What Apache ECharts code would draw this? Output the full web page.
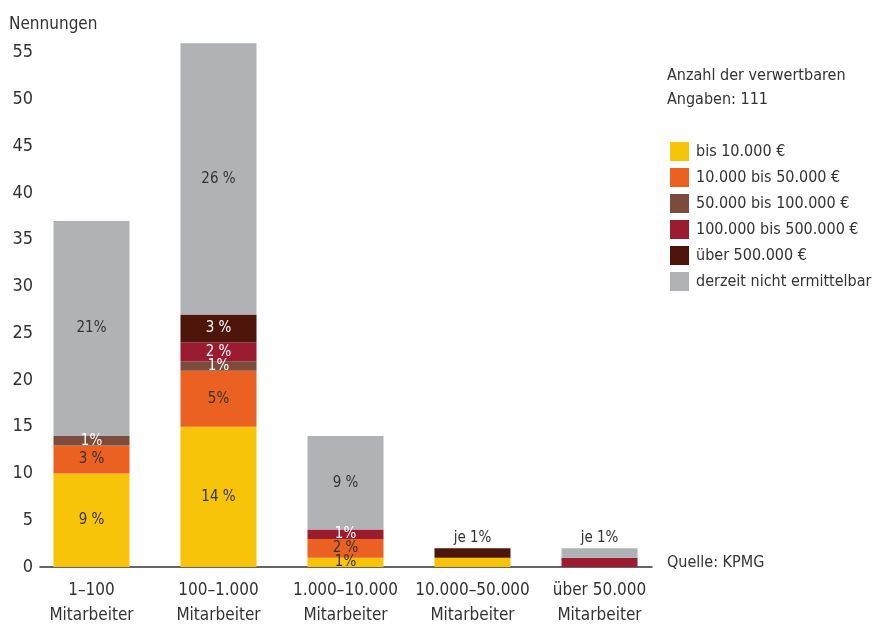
<!DOCTYPE html>
<html>
<head>
<meta charset="utf-8">
<script src="https://cdn.jsdelivr.net/npm/echarts@6/dist/echarts.min.js"></script>
<style>
  html, body { margin: 0; padding: 0; background: #fff; }
  #chart { width: 886px; height: 626px; }
</style>
</head>
<body>
<div id="chart"></div>
<script>
// Kategorien (Unternehmensgröße)
const categories = ['1–100\nMitarbeiter', '100–1.000\nMitarbeiter', '1.000–10.000\nMitarbeiter', '10.000–50.000\nMitarbeiter', 'über 50.000\nMitarbeiter'];
const seriesNames = ['bis 10.000 €', '10.000 bis 50.000 €', '50.000 bis 100.000 €', '100.000 bis 500.000 €', 'über 500.000 €', 'derzeit nicht ermittelbar'];

// Nennungen je Segment
const bis10k = [10, 15, 1, 1, 0];
const bis50k = [3, 6, 2, 0, 0];
const bis100k = [1, 1, 0, 0, 0];
const bis500k = [0, 2, 1, 0, 1];
const ueber500k = [0, 3, 0, 1, 0];
const unbekannt = [23, 29, 10, 0, 1];

// Beschriftungen in den Segmenten
const labels10k = ['9 %', '14 %', '1%', '', ''];
const labels50k = ['3 %', '5%', '2 %', '', ''];
const labels100k = ['1%', '1%', '', '', ''];
const labels500k = ['', '2 %', '1%', '', ''];
const labelsUeber = ['', '3 %', '', 'je 1%', ''];
const labelsUnbekannt = ['21%', '26 %', '9 %', '', 'je 1%'];

const yTicks = [0, 5, 10, 15, 20, 25, 30, 35, 40, 45, 50, 55];

const FONT = '"Liberation Sans Narrow", "DejaVu Sans Condensed", "Roboto", sans-serif';
const colors = ['#f8c409', '#eb6122', '#7c4b3c', '#9b1b30', '#4e150a', '#b1b2b6'];
const labelColors = ['#333', '#333', '#fff', '#fff', '#fff', '#333'];

const chart = echarts.init(document.getElementById('chart'));

function makeSeries(idx, values, labels) {
  return {
    name: seriesNames[idx],
    type: 'bar',
    stack: 'total',
    xAxisIndex: 0,
    yAxisIndex: 0,
    barWidth: 76,
    itemStyle: { color: colors[idx] },
    emphasis: { disabled: true },
    data: values.map(function (v, i) {
      const item = { value: v };
      if (labels[i] === 'je 1%') {
        item.label = { position: 'top', color: '#333', distance: 3 };
      }
      return item;
    }),
    label: {
      show: true,
      position: 'inside',
      fontFamily: FONT,
      fontSize: 15,
      color: labelColors[idx],
      formatter: function (p) { return labels[p.dataIndex]; }
    }
  };
}

chart.setOption({
  animation: false,
  textStyle: { fontFamily: FONT },
  title: [
    { text: 'Nennungen', left: 4, top: 11, textStyle: { fontFamily: FONT, fontSize: 17, fontWeight: 'normal', color: '#333' } },
    { text: 'Anzahl der verwertbaren\nAngaben: 111', left: 662, top: 59, textStyle: { fontFamily: FONT, fontSize: 16, lineHeight: 24, fontWeight: 'normal', color: '#333' } },
    { text: 'Quelle: KPMG', left: 662, top: 550, textStyle: { fontFamily: FONT, fontSize: 16, fontWeight: 'normal', color: '#333' } }
  ],
  legend: {
    orient: 'vertical',
    left: 665,
    top: 137,
    itemWidth: 19,
    itemHeight: 19,
    itemGap: 7,
    icon: 'rect',
    selectedMode: false,
    data: seriesNames,
    textStyle: { fontFamily: FONT, fontSize: 16, color: '#333', padding: [0, 0, 0, 2] }
  },
  grid: [
    { left: 28, width: 635, top: 34, height: 533, outerBoundsMode: 'none' },
    { left: 40, width: 612, top: 34, height: 533, outerBoundsMode: 'none' }
  ],
  xAxis: [
    {
      type: 'category',
      gridIndex: 0,
      data: categories,
      axisLine: { show: false },
      axisTick: { show: false },
      axisLabel: { interval: 0, fontFamily: FONT, fontSize: 17, color: '#333', lineHeight: 25, margin: 11 }
    },
    {
      type: 'value',
      gridIndex: 1,
      min: 0,
      max: 1,
      axisLine: { show: true, onZero: false, lineStyle: { color: '#333', width: 1.5 } },
      axisTick: { show: false },
      axisLabel: { show: false },
      splitLine: { show: false }
    }
  ],
  yAxis: [
    {
      type: 'value',
      gridIndex: 0,
      min: 0,
      max: 57,
      show: false,
      splitLine: { show: false }
    },
    {
      type: 'value',
      gridIndex: 1,
      min: 0,
      max: 57,
      interval: 5,
      axisLine: { show: false },
      axisTick: { show: false },
      splitLine: { show: false },
      axisLabel: {
        fontFamily: FONT,
        fontSize: 18,
        color: '#333',
        margin: 7,
        showMaxLabel: false,
        formatter: function (v) { return yTicks.indexOf(v) >= 0 ? String(v) : ''; }
      }
    }
  ],
  series: [
    makeSeries(0, bis10k, labels10k),
    makeSeries(1, bis50k, labels50k),
    makeSeries(2, bis100k, labels100k),
    makeSeries(3, bis500k, labels500k),
    makeSeries(4, ueber500k, labelsUeber),
    makeSeries(5, unbekannt, labelsUnbekannt)
  ]
});
</script>
</body>
</html>
